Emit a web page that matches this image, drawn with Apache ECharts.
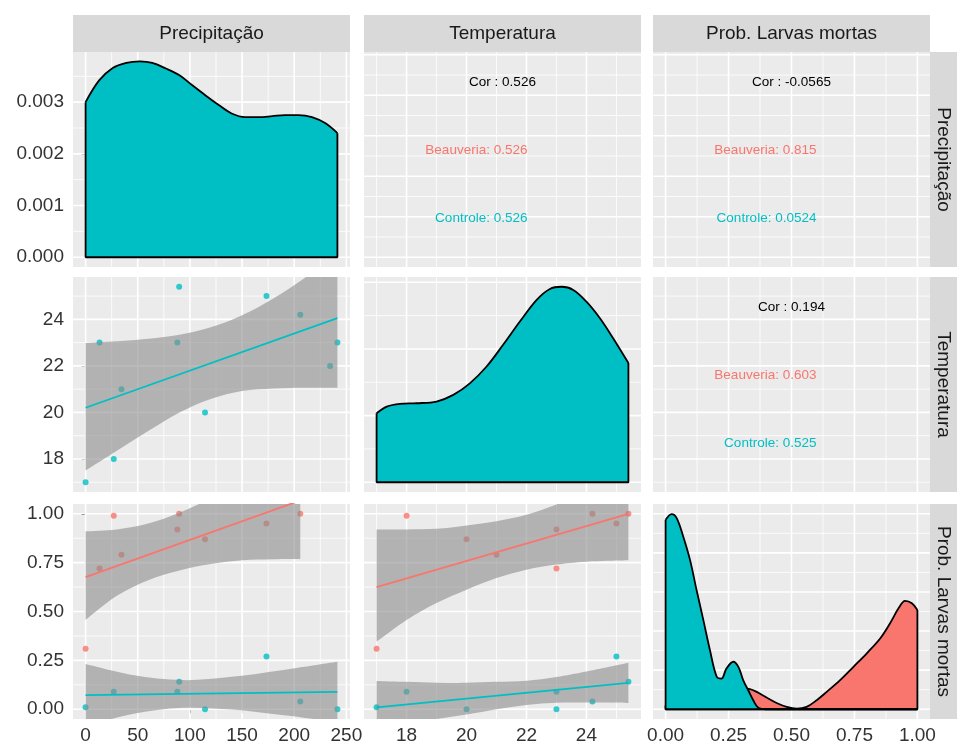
<!DOCTYPE html>
<html><head><meta charset="utf-8">
<script src="https://cdn.jsdelivr.net/npm/echarts@6/dist/echarts.min.js"></script>
<style>html,body{margin:0;padding:0;background:#fff}#c{width:957px;height:746px}</style>
</head><body><div id="c"></div>
<script>
// ---------------- data ----------------
const variables = ['Precipitação', 'Temperatura', 'Prob. Larvas mortas'];
const groups = ['Beauveria', 'Controle'];

// sites (Temperatura vs Precipitação panel)
const sitePrecip = [0, 13.4, 27, 34.4, 88, 89.7, 114.5, 173.4, 205.8, 234.4, 241.4];
const siteTemp   = [17, 23, 18, 21, 23, 25.4, 20, 25, 24.2, 22, 23];

// Beauveria group
const beauPrecip = [0, 13.4, 27, 34.4, 88, 89.7, 114.5, 173.4, 205.8];
const beauTemp   = [17, 23, 18, 21, 23, 25.4, 20, 25, 24.2];
const beauProb   = [0.31, 0.72, 0.99, 0.79, 0.92, 1.0, 0.87, 0.95, 1.0];

// Controle group
const ctrlPrecip = [0, 27, 88, 89.7, 114.5, 173.4, 205.8, 241.4];
const ctrlTemp   = [17, 18, 23, 25.4, 20, 25, 24.2, 23];
const ctrlProb   = [0.01, 0.09, 0.09, 0.14, 0.0, 0.27, 0.04, 0.0];

// correlation texts
const corTexts = {
  '0-1': ['Cor : 0.526', 'Beauveria: 0.526', 'Controle: 0.526'],
  '0-2': ['Cor : -0.0565', 'Beauveria: 0.815', 'Controle: 0.0524'],
  '1-2': ['Cor : 0.194', 'Beauveria: 0.603', 'Controle: 0.525']
};

// densities
const densPrecipX = [0, 13, 26, 39, 52, 64, 77, 90, 102, 115, 128, 140, 153, 166, 179, 191, 204, 217, 230, 241.4];
const densPrecipY = [0.00300, 0.00342, 0.00366, 0.00376, 0.00379, 0.00376, 0.00365, 0.00352, 0.00333, 0.00313, 0.00294, 0.00278, 0.00271, 0.00271, 0.00273, 0.00275, 0.00275, 0.00271, 0.00259, 0.00240];

const densTempX = [17.0, 17.34, 17.78, 18.33, 19.0, 19.56, 20.11, 20.67, 21.22, 21.78, 22.34, 22.78, 23.17, 23.56, 24.0, 24.45, 24.89, 25.4];
const densTempY = [0.353, 0.387, 0.401, 0.404, 0.413, 0.447, 0.506, 0.592, 0.703, 0.822, 0.933, 0.989, 1.0, 0.984, 0.924, 0.839, 0.737, 0.61];

const densProbCtrlX = [0, 0.024, 0.044, 0.070, 0.097, 0.123, 0.150, 0.176, 0.203, 0.222, 0.242, 0.269, 0.289, 0.308, 0.328, 0.348, 0.368, 0.40, 1.0];
const densProbCtrlY = [0.969, 0.998, 0.978, 0.884, 0.764, 0.610, 0.456, 0.303, 0.166, 0.157, 0.209, 0.243, 0.217, 0.149, 0.097, 0.046, 0.008, 0.0, 0.0];
const densProbBeauX = [0, 0.1, 0.2, 0.28, 0.335, 0.362, 0.401, 0.441, 0.481, 0.521, 0.560, 0.600, 0.640, 0.693, 0.746, 0.799, 0.852, 0.891, 0.925, 0.951, 0.978, 1.0];
const densProbBeauY = [0.02, 0.05, 0.09, 0.11, 0.103, 0.089, 0.060, 0.032, 0.012, 0.003, 0.012, 0.046, 0.089, 0.149, 0.217, 0.286, 0.362, 0.439, 0.516, 0.554, 0.542, 0.508];

// smooth fits and confidence ribbons
const fitTP_x = [0, 241.4], fitTP_y = [20.2, 24.05];
const ribTP_x  = [0, 30, 60, 90, 120, 150, 180, 210, 241.4];
const ribTP_lo = [17.5, 18.35, 19.2, 20.0, 20.58, 20.92, 21.03, 21.06, 21.06];
const ribTP_hi = [22.98, 23.06, 23.17, 23.34, 23.66, 24.18, 24.9, 25.78, 26.8];

const fitPPb_x = [0, 205.8], fitPPb_y = [0.676, 1.068];
const ribPPb_x  = [0, 30, 60, 90, 120, 150, 180, 205.8];
const ribPPb_lo = [0.457, 0.58, 0.66, 0.71, 0.743, 0.762, 0.767, 0.768];
const ribPPb_hi = [0.91, 0.92, 0.95, 1.005, 1.08, 1.17, 1.27, 1.36];

const fitPPc_x = [0, 241.4], fitPPc_y = [0.072, 0.089];
const ribPPc_x  = [0, 45, 93, 140, 188, 241.4];
const ribPPc_lo = [-0.087, -0.025, 0.007, -0.002, -0.03, -0.065];
const ribPPc_hi = [0.231, 0.175, 0.149, 0.166, 0.2, 0.243];

const fitPTb_x = [17, 25.4], fitPTb_y = [0.625, 1.0];
const ribPT_x   = [17, 18, 19, 20, 21, 22, 23, 24, 25.4];
const ribPTb_lo = [0.346, 0.457, 0.543, 0.611, 0.671, 0.714, 0.74, 0.755, 0.762];
const ribPTb_hi = [0.919, 0.92, 0.923, 0.94, 0.962, 0.995, 1.048, 1.1, 1.2];

const fitPTc_x = [17, 25.4], fitPTc_y = [0.009, 0.135];
const ribPTc_lo = [-0.127, -0.08, -0.05, -0.027, 0.0, 0.022, 0.033, 0.034, 0.032];
const ribPTc_hi = [0.145, 0.14, 0.136, 0.135, 0.14, 0.146, 0.165, 0.193, 0.238];

// axis scales / breaks
const precipRange = [-12.07, 253.47];
const tempRange   = [16.58, 25.82];
const probRange   = [-0.05, 1.05];
const precipTicks = [0, 50, 100, 150, 200, 250], precipMinor = [25, 75, 125, 175, 225];
const tempTicks   = [18, 20, 22, 24],            tempMinor   = [17, 19, 21, 23, 25];
const probTicks   = [0, 0.25, 0.5, 0.75, 1],     probMinor   = [0.125, 0.375, 0.625, 0.875];
const densPrecipRange = [-0.000189, 0.00397];
const densPrecipTicks = [0, 0.001, 0.002, 0.003], densPrecipMinor = [0.0005, 0.0015, 0.0025, 0.0035];
const densTempRange = [-0.05, 1.05];
const densTempTicks = [0, 0.341, 0.682, 1.023], densTempMinor = [0.1705, 0.5115, 0.8525];
const densProbRange = [-0.05, 1.05];
const densProbTicks = [0, 0.2, 0.4, 0.6, 0.8, 1.0], densProbMinor = [0.1, 0.3, 0.5, 0.7, 0.9];

// ---------------- layout / style ----------------
const TEAL = '#00BFC4', RED = '#F8766D';
const RIB = 'rgba(140,140,140,0.6)';
const FONT = '"Liberation Sans", Arial, sans-serif';
const L = [73, 364, 653], T = [52, 277, 504], W = 277, H = 215;

const zip = (a, b) => a.map((v, i) => [v, b[i]]);

const varSpec = [
  {range: precipRange, major: precipTicks, minor: precipMinor, fmt: v => String(v)},
  {range: tempRange, major: tempTicks, minor: tempMinor, fmt: v => String(v)},
  {range: probRange, major: probTicks, minor: probMinor, fmt: v => Number(v).toFixed(2)}
];
const diagSpec = [
  {range: densPrecipRange, major: densPrecipTicks, minor: densPrecipMinor, fmt: v => Number(v).toFixed(3)},
  {range: densTempRange, major: densTempTicks, minor: densTempMinor, fmt: v => ''},
  {range: densProbRange, major: densProbTicks, minor: densProbMinor, fmt: v => ''}
];

const grids = [], xAxes = [], yAxes = [], series = [], graphics = [];

function axis(spec, gi, showLabels, isX) {
  return {
    type: 'value', gridIndex: gi, min: spec.range[0], max: spec.range[1],
    position: isX ? 'bottom' : 'left',
    splitLine: {show: false}, axisLine: {show: false},
    axisTick: {show: showLabels, customValues: spec.major, length: 4, lineStyle: {color: '#333', width: 1}},
    axisLabel: {show: showLabels, customValues: spec.major, formatter: spec.fmt,
      fontSize: 19, color: '#333', fontFamily: FONT, margin: isX ? 7 : 9}
  };
}

function gridLines(gi, xs, ys) {
  return {
    type: 'custom', xAxisIndex: gi, yAxisIndex: gi, z: 1, silent: true,
    data: [[xs.range[0], ys.range[0]]],
    renderItem(params, api) {
      const ch = [];
      const v = (val, w) => { const a = api.coord([val, ys.range[0]]), b = api.coord([val, ys.range[1]]);
        ch.push({type: 'line', shape: {x1: a[0], y1: a[1], x2: b[0], y2: b[1]}, style: {stroke: '#fff', lineWidth: w}}); };
      const h = (val, w) => { const a = api.coord([xs.range[0], val]), b = api.coord([xs.range[1], val]);
        ch.push({type: 'line', shape: {x1: a[0], y1: a[1], x2: b[0], y2: b[1]}, style: {stroke: '#fff', lineWidth: w}}); };
      xs.minor.forEach(x => v(x, 0.8)); ys.minor.forEach(y => h(y, 0.8));
      xs.major.forEach(x => v(x, 1.6)); ys.major.forEach(y => h(y, 1.6));
      return {type: 'group', children: ch};
    }
  };
}

// Catmull-Rom -> cubic bezier path segments through pixel points
function curve(p) {
  let s = '';
  for (let i = 0; i < p.length - 1; i++) {
    const p0 = p[Math.max(0, i - 1)], p1 = p[i], p2 = p[i + 1], p3 = p[Math.min(p.length - 1, i + 2)];
    const c1 = [p1[0] + (p2[0] - p0[0]) / 6, p1[1] + (p2[1] - p0[1]) / 6];
    const c2 = [p2[0] - (p3[0] - p1[0]) / 6, p2[1] - (p3[1] - p1[1]) / 6];
    s += ' C' + c1[0] + ' ' + c1[1] + ' ' + c2[0] + ' ' + c2[1] + ' ' + p2[0] + ' ' + p2[1];
  }
  return s;
}

function pts(gi, xs, ys, color) {
  return {type: 'scatter', xAxisIndex: gi, yAxisIndex: gi, data: zip(xs, ys), symbolSize: 6,
    itemStyle: {color: color}, z: 2, silent: true};
}
function fitLine(gi, xs, ys, color) {
  return {type: 'line', xAxisIndex: gi, yAxisIndex: gi, data: zip(xs, ys), symbol: 'none',
    lineStyle: {color: color, width: 1.8}, z: 4, silent: true, clip: true};
}
function ribbon(gi, xs, lo, hi) {
  return {
    type: 'custom', xAxisIndex: gi, yAxisIndex: gi, z: 3, silent: true, clip: true,
    data: [[xs[0], lo[0]]],
    renderItem(params, api) {
      const up = xs.map((x, i) => api.coord([x, hi[i]]));
      const dn = xs.map((x, i) => api.coord([x, lo[i]])).reverse();
      const d = 'M' + up[0][0] + ' ' + up[0][1] + curve(up) + ' L' + dn[0][0] + ' ' + dn[0][1] + curve(dn) + ' Z';
      return {type: 'path', shape: {pathData: d}, style: {fill: RIB}};
    }
  };
}
function density(gi, xs, ys, fill, z) {
  const n = xs.length - 1;
  return [
    {type: 'line', xAxisIndex: gi, yAxisIndex: gi, data: zip(xs, ys), symbol: 'none', smooth: 0.35,
      lineStyle: {color: '#000', width: 1.8}, areaStyle: {color: fill, opacity: 1}, z: z, silent: true},
    {type: 'line', xAxisIndex: gi, yAxisIndex: gi,
      data: [[xs[0], ys[0]], [xs[0], 0], [xs[n], 0], [xs[n], ys[n]]], symbol: 'none',
      lineStyle: {color: '#000', width: 1.8}, z: z, silent: true}
  ];
}

for (let r = 0; r < 3; r++) {
  for (let c = 0; c < 3; c++) {
    const gi = r * 3 + c;
    grids.push({left: L[c], top: T[r], width: W, height: H, show: true, backgroundColor: '#EBEBEB', borderWidth: 0});
    const xs = varSpec[c];
    const ys = (r === c) ? diagSpec[r] : varSpec[r];
    xAxes.push(axis(xs, gi, r === 2, true));
    yAxes.push(axis(ys, gi, c === 0, false));
    series.push(gridLines(gi, xs, ys));
  }
}

// diagonal densities
series.push(...density(0, densPrecipX, densPrecipY, TEAL, 3));
series.push(...density(4, densTempX, densTempY, TEAL, 3));
series.push(...density(8, densProbBeauX, densProbBeauY, RED, 3));
series.push(...density(8, densProbCtrlX, densProbCtrlY, TEAL, 5));

// row 2 col 1: Temperatura vs Precipitação
series.push(pts(3, sitePrecip, siteTemp, TEAL));
series.push(ribbon(3, ribTP_x, ribTP_lo, ribTP_hi));
series.push(fitLine(3, fitTP_x, fitTP_y, TEAL));

// row 3 col 1: Prob vs Precipitação
series.push(pts(6, beauPrecip, beauProb, RED));
series.push(pts(6, ctrlPrecip, ctrlProb, TEAL));
series.push(ribbon(6, ribPPb_x, ribPPb_lo, ribPPb_hi));
series.push(fitLine(6, fitPPb_x, fitPPb_y, RED));
series.push(ribbon(6, ribPPc_x, ribPPc_lo, ribPPc_hi));
series.push(fitLine(6, fitPPc_x, fitPPc_y, TEAL));

// row 3 col 2: Prob vs Temperatura
series.push(pts(7, beauTemp, beauProb, RED));
series.push(pts(7, ctrlTemp, ctrlProb, TEAL));
series.push(ribbon(7, ribPT_x, ribPTb_lo, ribPTb_hi));
series.push(fitLine(7, fitPTb_x, fitPTb_y, RED));
series.push(ribbon(7, ribPT_x, ribPTc_lo, ribPTc_hi));
series.push(fitLine(7, fitPTc_x, fitPTc_y, TEAL));

// strips
for (let i = 0; i < 3; i++) {
  graphics.push({type: 'rect', z: 10, shape: {x: L[i], y: 15, width: W, height: 37}, style: {fill: '#D9D9D9'}, silent: true});
  graphics.push({type: 'text', z: 11, x: L[i] + W / 2, y: 33.5, silent: true,
    style: {text: variables[i], fill: '#1A1A1A', font: '19px ' + FONT, textAlign: 'center', textVerticalAlign: 'middle'}});
  graphics.push({type: 'rect', z: 10, shape: {x: 930, y: T[i], width: 30, height: H}, style: {fill: '#D9D9D9'}, silent: true});
  graphics.push({type: 'text', z: 11, x: 943, y: T[i] + H / 2, rotation: -Math.PI / 2, silent: true,
    style: {text: variables[i], fill: '#1A1A1A', font: '19px ' + FONT, textAlign: 'center', textVerticalAlign: 'middle'}});
}
// correlation texts
Object.keys(corTexts).forEach(k => {
  const [r, c] = k.split('-').map(Number);
  const t = corTexts[k];
  graphics.push({type: 'text', z: 11, x: L[c] + W / 2, y: T[r] + 0.14 * H, silent: true,
    style: {text: t[0], fill: '#000', font: '13.5px ' + FONT, textAlign: 'center', textVerticalAlign: 'middle'}});
  graphics.push({type: 'text', z: 11, x: L[c] + 0.59 * W, y: T[r] + 0.455 * H, silent: true,
    style: {text: t[1], fill: RED, font: '13.5px ' + FONT, textAlign: 'right', textVerticalAlign: 'middle'}});
  graphics.push({type: 'text', z: 11, x: L[c] + 0.59 * W, y: T[r] + 0.775 * H, silent: true,
    style: {text: t[2], fill: TEAL, font: '13.5px ' + FONT, textAlign: 'right', textVerticalAlign: 'middle'}});
});

const chart = echarts.init(document.getElementById('c'), null, {renderer: 'canvas'});
chart.setOption({
  animation: false,
  backgroundColor: '#FFFFFF',
  grid: grids, xAxis: xAxes, yAxis: yAxes, series: series,
  graphic: graphics
});
</script></body></html>
